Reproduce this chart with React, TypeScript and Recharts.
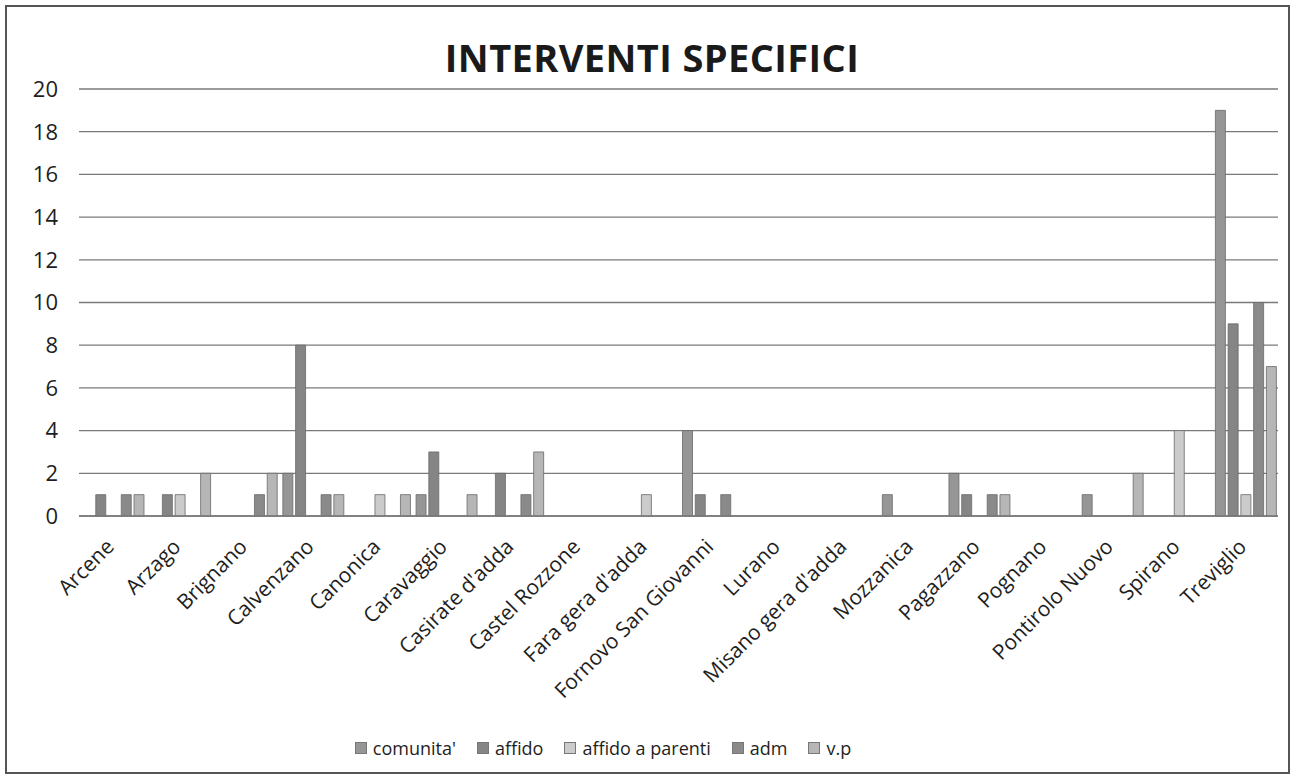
import React from 'react';
import { BarChart, Bar, XAxis, YAxis, CartesianGrid, Legend } from 'recharts';

const categories = [
  'Arcene', 'Arzago', 'Brignano', 'Calvenzano', 'Canonica', 'Caravaggio',
  "Casirate d'adda", 'Castel Rozzone', "Fara gera d'adda", 'Fornovo San Giovanni',
  'Lurano', "Misano gera d'adda", 'Mozzanica', 'Pagazzano', 'Pognano',
  'Pontirolo Nuovo', 'Spirano', 'Treviglio',
];
const comunita = [0, 0, 0, 2, 0, 1, 0, 0, 0, 4, 0, 0, 1, 2, 0, 1, 0, 19];
const affido = [1, 1, 0, 8, 0, 3, 2, 0, 0, 1, 0, 0, 0, 1, 0, 0, 0, 9];
const affidoParenti = [0, 1, 0, 0, 1, 0, 0, 0, 1, 0, 0, 0, 0, 0, 0, 0, 4, 1];
const adm = [1, 0, 1, 1, 0, 0, 1, 0, 0, 1, 0, 0, 0, 1, 0, 0, 0, 10];
const vp = [1, 2, 2, 1, 1, 1, 3, 0, 0, 0, 0, 0, 0, 1, 0, 2, 0, 7];
const yTicks = [0, 2, 4, 6, 8, 10, 12, 14, 16, 18, 20];
const seriesNames = ["comunita'", 'affido', 'affido a parenti', 'adm', 'v.p'];
const seriesKeys = ['comunita', 'affido', 'affidoParenti', 'adm', 'vp'];
const seriesColors = ['#969696', '#858585', '#cbcbcb', '#8a8a8a', '#b6b6b6'];

const data = categories.map((name, i) => ({
  name,
  comunita: comunita[i],
  affido: affido[i],
  affidoParenti: affidoParenti[i],
  adm: adm[i],
  vp: vp[i],
}));

const FONT = "'Open Sans', sans-serif";

const XTick = (props: any) => {
  const { x, y, payload } = props;
  const ax = x + 3;
  const ay = y + 30;
  return (
    <text
      x={ax}
      y={ay}
      transform={`rotate(-45, ${ax}, ${ay})`}
      textAnchor="end"
      fontSize={21}
      fontFamily={FONT}
      fill="#1e1e1e"
    >
      {payload.value}
    </text>
  );
};

const renderLegend = () => (
  <div
    style={{
      display: 'flex',
      justifyContent: 'center',
      alignItems: 'center',
      fontFamily: FONT,
      fontSize: 18,
      color: '#1e1e1e',
      lineHeight: '24px',
    }}
  >
    {seriesNames.map((n, i) => (
      <span key={n} style={{ display: 'flex', alignItems: 'center', marginRight: i < 4 ? 21 : 0 }}>
        <span
          style={{
            display: 'inline-block',
            width: 10,
            height: 10,
            background: seriesColors[i],
            border: '1px solid #777',
            marginRight: 6,
          }}
        />
        {n}
      </span>
    ))}
  </div>
);

export default function App() {
  return (
    <div style={{ position: 'absolute', left: 0, top: 0, width: 1296, height: 781, background: '#fff' }}>
      <div
        style={{
          position: 'absolute',
          left: 5,
          top: 5,
          width: 1285,
          height: 769,
          border: '2px solid #555',
          boxSizing: 'border-box',
        }}
      />
      <div style={{ position: 'absolute', left: 0, top: 0 }}>
        <BarChart
          width={1296}
          height={781}
          data={data}
          margin={{ top: 89, right: 18, bottom: 21, left: 0 }}
          barCategoryGap={4}
          barGap={2.75}
        >
          <CartesianGrid vertical={false} stroke="#7a7a7a" strokeWidth={1.3} />
          <XAxis
            dataKey="name"
            interval={0}
            height={220}
            tick={<XTick />}
            tickLine={false}
            tickSize={0}
            axisLine={{ stroke: '#7a7a7a', strokeWidth: 1.3 }}
          />
          <YAxis
            width={79}
            domain={[0, 20]}
            ticks={yTicks}
            interval={0}
            axisLine={false}
            tickLine={false}
            tickSize={6}
            tickMargin={15}
            tick={{ fontSize: 22, fill: '#1e1e1e', fontFamily: FONT }}
          />
          <Legend verticalAlign="bottom" content={renderLegend} wrapperStyle={{ left: 0, width: 1206 }} />
          {seriesKeys.map((k, i) => (
            <Bar
              key={k}
              dataKey={k}
              name={seriesNames[i]}
              fill={seriesColors[i]}
              stroke="#6a6a6a"
              strokeWidth={0.8}
              isAnimationActive={false}
            />
          ))}
        </BarChart>
      </div>
      <svg
        width={1296}
        height={100}
        style={{ position: 'absolute', left: 0, top: 0, pointerEvents: 'none' }}
      >
        <text
          x={652}
          y={72}
          textAnchor="middle"
          fontFamily={FONT}
          fontWeight={700}
          fontSize={38}
          letterSpacing={0.4}
          fill="#1a1a1a"
        >
          INTERVENTI SPECIFICI
        </text>
      </svg>
    </div>
  );
}
